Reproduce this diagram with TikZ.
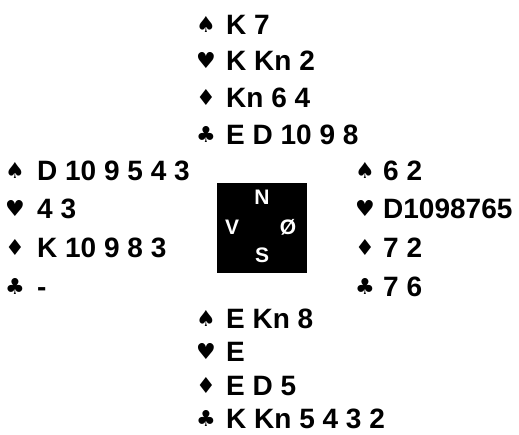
\documentclass[tikz,border=0pt]{standalone}
\usepackage{fontspec}
\setmainfont{Liberation Sans}
\newfontfamily\suitfont{DejaVu Sans}
\begin{document}
\begin{tikzpicture}[x=1pt,y=-1pt,
    card/.style={anchor=base west,inner sep=0pt,font=\fontsize{28}{28}\selectfont\bfseries},
    suit/.style={inner sep=0pt,font=\fontsize{22}{22}\suitfont},
    compass/.style={text=white,inner sep=0pt,font=\fontsize{21}{21}\selectfont\bfseries}]
  \useasboundingbox (0,0) rectangle (519,434);
  % nord
  \foreach \s/\c [count=\i] in {♠/K 7, ♥/K Kn 2, ♦/Kn 6 4, ♣/E D 10 9 8}{
    \node[suit] (ns\i) at (206,{24+36.8*(\i-1)}) {\s};
    \node[card] (nc\i) at (226,{34+36.8*(\i-1)}) {\c};
  }
  % vest
  \foreach \s/\c [count=\i] in {♠/D 10 9 5 4 3, ♥/4 3, ♦/K 10 9 8 3, ♣/-}{
    \node[suit] (vs\i) at (15,{170+38.8*(\i-1)}) {\s};
    \node[card] (vc\i) at (37,{180+38.8*(\i-1)}) {\c};
  }
  % øst
  \foreach \s/\c [count=\i] in {♠/6 2, ♥/D1098765, ♦/7 2, ♣/7 6}{
    \node[suit] (os\i) at (365,{170+38.8*(\i-1)}) {\s};
    \node[card] (oc\i) at (383,{180+38.8*(\i-1)}) {\c};
  }
  % syd
  \foreach \s/\c [count=\i] in {♠/E Kn 8, ♥/E, ♦/E D 5, ♣/K Kn 5 4 3 2}{
    \node[suit] (ss\i) at (206,{318+33.5*(\i-1)}) {\s};
    \node[card] (sc\i) at (226,{328+33.5*(\i-1)}) {\c};
  }
  % bordet
  \node[fill=black,minimum size=90pt,inner sep=0pt] (bord) at (262,228) {};
  \node[compass] (nord) at (262,197) {N};
  \node[compass] (vest) at (232,227) {V};
  \node[compass] (ost) at (288,227) {Ø};
  \node[compass] (syd) at (262,255) {S};
\end{tikzpicture}
\end{document}
